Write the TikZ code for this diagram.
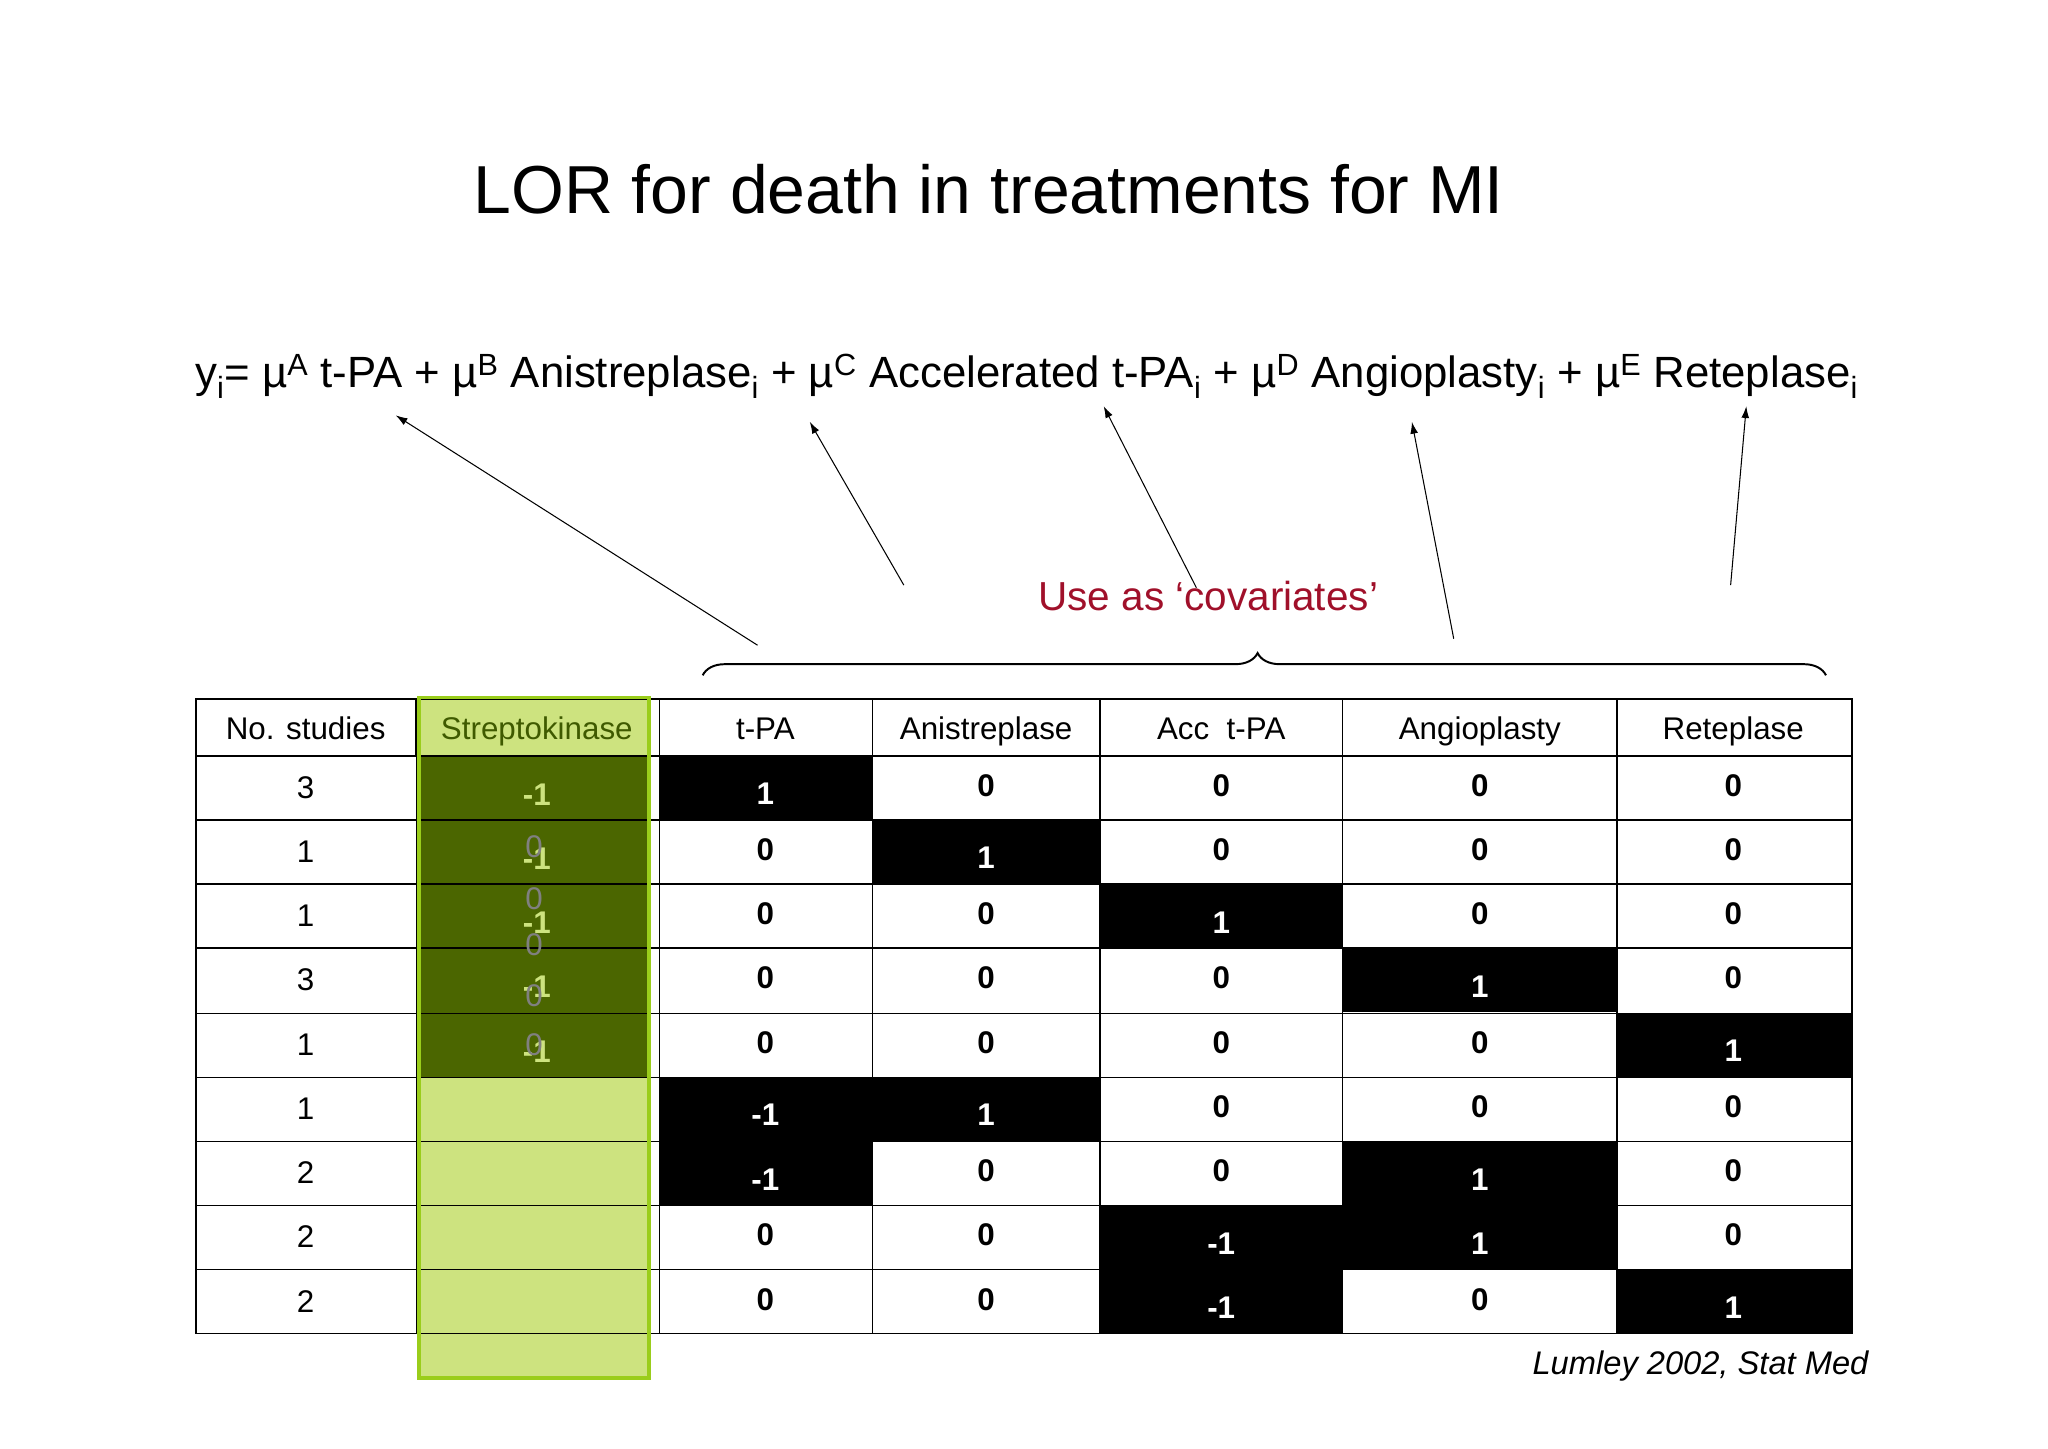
\documentclass[tikz,border=0pt]{standalone}
\usepackage{fontspec}
\setmainfont{Liberation Sans}
\usetikzlibrary{decorations.pathreplacing,arrows.meta}
\definecolor{olive}{HTML}{4B6600}
\definecolor{lgreen}{HTML}{CDE37F}
\definecolor{bgreen}{HTML}{9ACD1B}
\definecolor{txtgreen}{HTML}{3F5A00}
\definecolor{covred}{HTML}{A0102A}
\begin{document}
\begin{tikzpicture}[x=1pt,y=-1pt,
  cell/.style={font=\fontsize{24}{26}\selectfont},
  hcell/.style={font=\fontsize{24}{26}\selectfont,anchor=base},
  val/.style={font=\fontsize{24}{26}\selectfont\bfseries},
  wval/.style={font=\fontsize{24}{26}\selectfont\bfseries,text=white},
  arr/.style={-{Latex[length=9pt,width=6pt]},line width=0.8pt}]
\useasboundingbox (0,0) rectangle (1568,1109);
\node (title) at (757,145) {\fontsize{52}{56}\selectfont LOR for death in treatments for MI};
\node (eq) at (786,288) {\fontsize{33.5}{36}\selectfont y\textsubscript{i}= µ\textsuperscript{A} t-PA + µ\textsuperscript{B} Anistreplase\textsubscript{i} + µ\textsuperscript{C} Accelerated t-PA\textsubscript{i} + µ\textsuperscript{D} Angioplasty\textsubscript{i} + µ\textsuperscript{E} Reteplase\textsubscript{i}};
\node[text=covred,font=\fontsize{31}{33}\selectfont] (cov) at (925,456) {Use as ‘covariates’};
% green column
\fill[lgreen] (321,534) rectangle (497,1055);
\fill[olive] (321,579) rectangle (497,825);
% black cells
\foreach \c/\r in {505/579,668/628,842/677,1028/726,1238/776,505/825,668/825,505/874,1028/874,842/923,1028/923,842/972,1238/972}{
  \pgfmathsetmacro{\w}{\c==505?163:(\c==668?174:(\c==842?186:(\c==1028?210:180)))}
  \fill[black] (\c,\r) rectangle ++(\w,49);
}
% grid
\draw[line width=1.2pt] (150,535) rectangle (1418,1021);
\foreach \y in {579,628,677,726,776,825,874,923,972} \draw[line width=1.2pt] (150,\y) -- (1418,\y);
\foreach \x in {319,505,668,842,1028,1238} \draw[line width=1.2pt] (\x,535) -- (\x,1021);
\draw[line width=3pt] (319,535) -- (319,579);
\draw[bgreen,line width=3pt] (321,534) rectangle (497,1055);
% headers
\node[hcell] (h0) at (234,566) {No. studies};
\node[hcell,text=txtgreen] (h1) at (411,566) {Streptokinase};
\node[hcell] (h2) at (586,566) {t-PA};
\node[hcell] (h3) at (755,566) {Anistreplase};
\node[hcell] (h4) at (935,566) {Acc\ \ t-PA};
\node[hcell] (h5) at (1133,566) {Angioplasty};
\node[hcell] (h6) at (1327,566) {Reteplase};
% studies
\foreach \n [count=\i] in {3,1,1,3,1,1,2,2,2}
  \node[cell] (s\i) at (234,{553.5+49.2*\i}) {\n};
% strepto
\foreach \i in {1,...,5} \node[val,text=lgreen] (k\i) at (411,{559+49.2*\i}) {-1};
\foreach \yy [count=\j] in {648,688,723,762,800} \node[cell,text=gray] (z\j) at (409,\yy) {0};
% values
\foreach \row [count=\i] in {{1,0,0,0,0},{0,1,0,0,0},{0,0,1,0,0},{0,0,0,1,0},{0,0,0,0,1},{-1,1,0,0,0},{-1,0,0,1,0},{0,0,-1,1,0},{0,0,-1,0,1}}{
  \foreach \v [count=\j] in \row {
    \pgfmathsetmacro{\xx}{{586,755,935,1133,1327}[\j-1]}
    \pgfmathtruncatemacro{\isb}{(\v!=0)}
    \ifnum\isb=1
      \node[wval] (v\i-\j) at (\xx,{558.5+49.2*\i}) {\v};
    \else
      \node[val] (v\i-\j) at (\xx,{552+49.2*\i}) {\v};
    \fi
  }
}
% brace
\draw[decorate,decoration={brace,amplitude=17pt,aspect=0.494},line width=1.5pt] (538,517) -- (1398,517);
% arrows
\coordinate (a1) at (580,494); \coordinate (b1) at (303,318);
\coordinate (a2) at (692,448); \coordinate (b2) at (620,323);
\coordinate (a3) at (916,450); \coordinate (b3) at (845,311);
\coordinate (a4) at (1113,489); \coordinate (b4) at (1081,323);
\coordinate (a5) at (1325,448); \coordinate (b5) at (1337,311);
\foreach \i in {1,...,5} \draw[arr] (a\i) -- (b\i);
\node[anchor=east,font=\fontsize{25}{27}\selectfont\itshape] (cite) at (1434,1046) {Lumley 2002, Stat Med};
\end{tikzpicture}
\end{document}
